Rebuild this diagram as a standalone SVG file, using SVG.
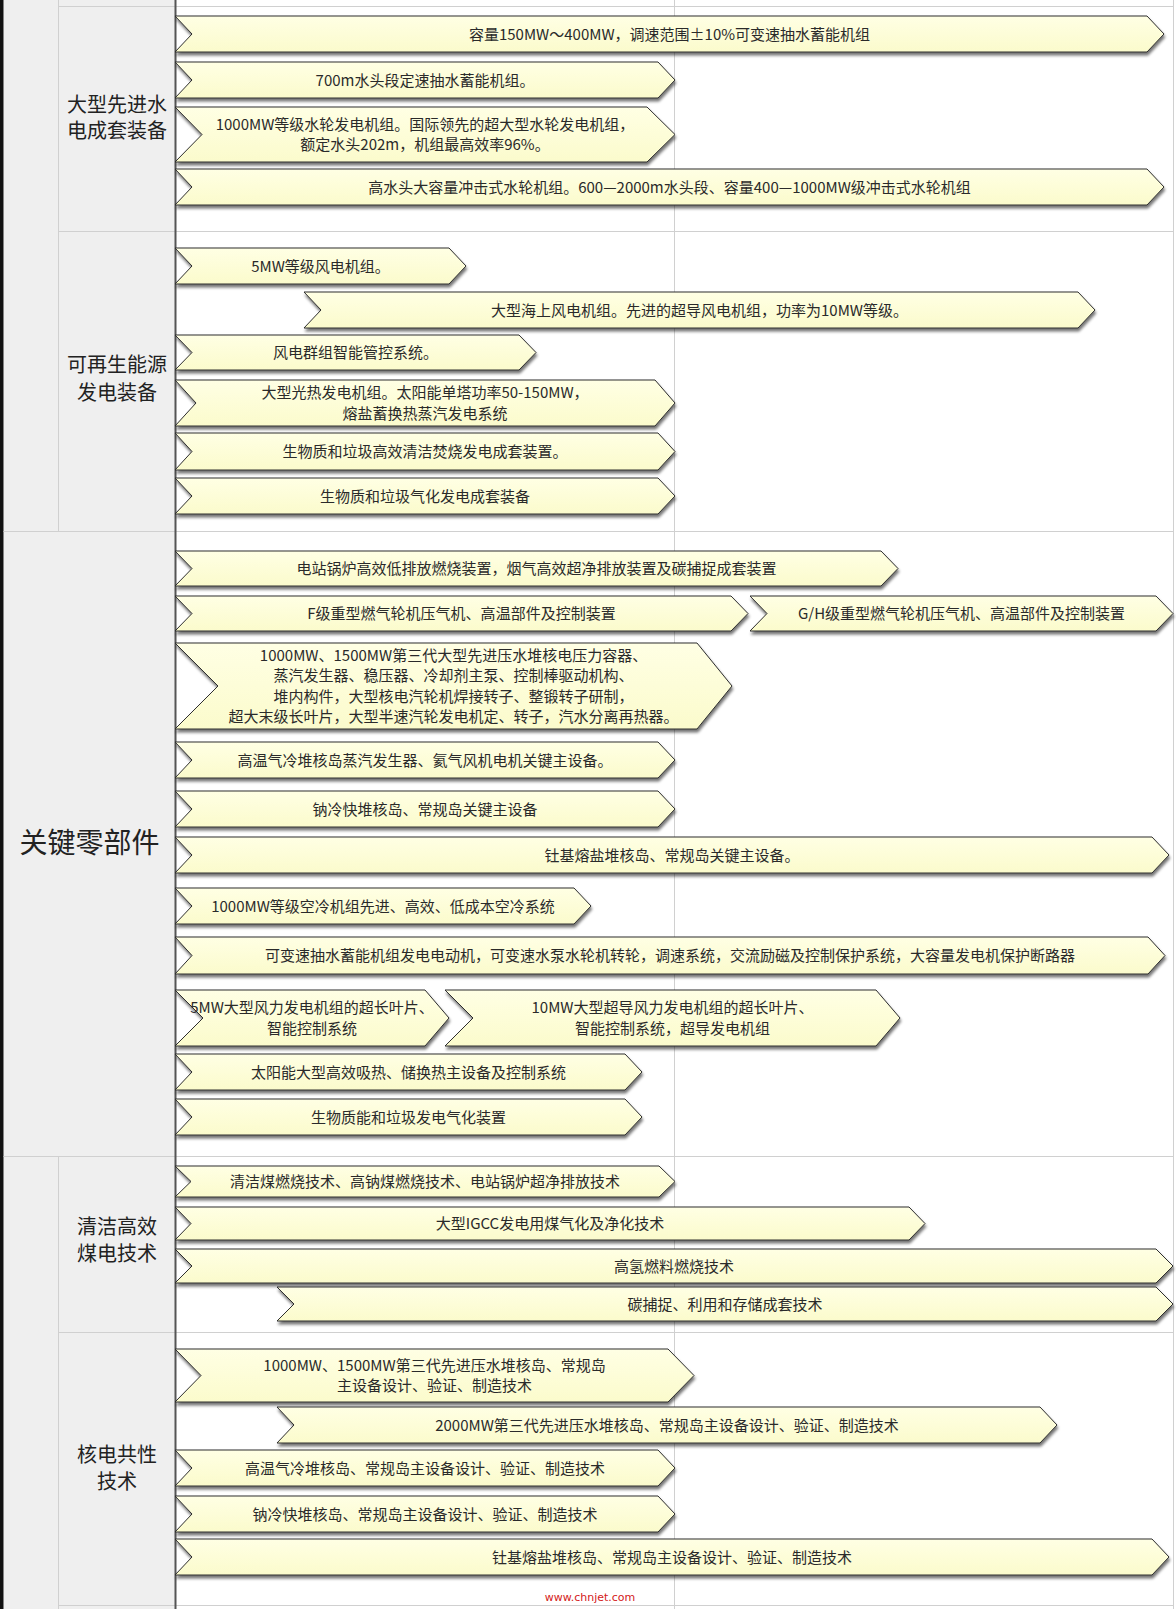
<svg xmlns="http://www.w3.org/2000/svg" width="1176" height="1609" viewBox="0 0 1176 1609">
<defs>
<linearGradient id="yf" x1="0" y1="0" x2="0" y2="1">
<stop offset="0" stop-color="#ffffe4"/>
<stop offset="1" stop-color="#fbfbcc"/>
</linearGradient>
<filter id="sh" x="-5%" y="-20%" width="110%" height="160%">
<feGaussianBlur in="SourceAlpha" stdDeviation="1.4"/>
<feOffset dx="1" dy="3" result="b"/>
<feComponentTransfer><feFuncA type="linear" slope="0.55"/></feComponentTransfer>
<feMerge><feMergeNode/><feMergeNode in="SourceGraphic"/></feMerge>
</filter>
<style>
.ar{fill:url(#yf);stroke:#2e2e2e;stroke-width:1;filter:url(#sh)}
.t{font-family:"Noto Sans CJK SC","Liberation Sans",sans-serif;font-size:15px;fill:#2a2a2a;text-anchor:middle}
.lb{font-family:"Noto Sans CJK SC","Liberation Sans",sans-serif;font-size:20px;fill:#222;text-anchor:middle}
.lbb{font-family:"Noto Sans CJK SC","Liberation Sans",sans-serif;font-size:28px;fill:#222;text-anchor:middle}
.gl{stroke:#d0d0d0;stroke-width:1;fill:none}
</style>
</defs>
<rect x="0" y="0" width="1176" height="1609" fill="#ffffff"/>
<g id="grid">
<rect x="3.5" y="0" width="172" height="1609" fill="#efefef"/>
<rect x="0" y="0" width="3.5" height="1609" fill="#111"/>
<line class="gl" x1="674.5" y1="0" x2="674.5" y2="1609"/>
<line class="gl" x1="1173.5" y1="0" x2="1173.5" y2="1609"/>
<line class="gl" x1="58.5" y1="0" x2="58.5" y2="531.5"/>
<line class="gl" x1="58.5" y1="1156.5" x2="58.5" y2="1609"/>
<line class="gl" x1="58.5" y1="6.5" x2="1174" y2="6.5"/>
<line class="gl" x1="58.5" y1="231.5" x2="1174" y2="231.5"/>
<line class="gl" x1="3.5" y1="531.5" x2="1174" y2="531.5"/>
<line class="gl" x1="3.5" y1="1156.5" x2="1174" y2="1156.5"/>
<line class="gl" x1="58.5" y1="1332.5" x2="1174" y2="1332.5"/>
<line class="gl" x1="58.5" y1="1605.5" x2="1174" y2="1605.5"/>
<line x1="175.5" y1="0" x2="175.5" y2="1609" stroke="#555" stroke-width="2"/>
</g>
<g id="labels">
<g id="lbl-hydro"><text class="lb" x="117" y="112">大型先进水</text><text class="lb" x="117" y="138">电成套装备</text></g>
<g id="lbl-renew"><text class="lb" x="117" y="372">可再生能源</text><text class="lb" x="117" y="400">发电装备</text></g>
<g id="lbl-key"><text class="lbb" x="89.5" y="853">关键零部件</text></g>
<g id="lbl-coal"><text class="lb" x="117" y="1234">清洁高效</text><text class="lb" x="117" y="1261">煤电技术</text></g>
<g id="lbl-nuc"><text class="lb" x="117" y="1462">核电共性</text><text class="lb" x="117" y="1489">技术</text></g>
</g>
<g id="connectors"></g>
<g id="n1"><polygon class="ar" points="175,16 1147,16 1164,34 1147,52 175,52 192,34"/><text class="t" x="669.5" y="39.5">容量150MW～400MW，调速范围±10%可变速抽水蓄能机组</text></g>
<g id="n2"><polygon class="ar" points="175,62 658,62 675,80 658,98 175,98 192,80"/><text class="t" x="425" y="85.5">700m水头段定速抽水蓄能机组。</text></g>
<g id="n3"><polygon class="ar" points="175,107 647,107 675,134.5 647,162 175,162 202,134.5"/><text class="t" x="425" y="129.5">1000MW等级水轮发电机组。国际领先的超大型水轮发电机组，</text><text class="t" x="425" y="150">额定水头202m，机组最高效率96%。</text></g>
<g id="n4"><polygon class="ar" points="175,169 1147,169 1164,187 1147,205 175,205 192,187"/><text class="t" x="669.5" y="192.5">高水头大容量冲击式水轮机组。600—2000m水头段、容量400—1000MW级冲击式水轮机组</text></g>
<g id="n5"><polygon class="ar" points="175,248 449,248 466,266 449,284 175,284 192,266"/><text class="t" x="320.5" y="271.5">5MW等级风电机组。</text></g>
<g id="n6"><polygon class="ar" points="304,292 1078,292 1095,310 1078,328 304,328 321,310"/><text class="t" x="699.5" y="315.5">大型海上风电机组。先进的超导风电机组，功率为10MW等级。</text></g>
<g id="n7"><polygon class="ar" points="175,335 519,335 536,352.5 519,370 175,370 192,352.5"/><text class="t" x="355.5" y="358">风电群组智能管控系统。</text></g>
<g id="n8"><polygon class="ar" points="175,380 655,380 675,403 655,426 175,426 196,403"/><text class="t" x="425" y="398">大型光热发电机组。太阳能单塔功率50-150MW，</text><text class="t" x="425" y="418.5">熔盐蓄换热蒸汽发电系统</text></g>
<g id="n9"><polygon class="ar" points="175,433 658,433 675,451.5 658,470 175,470 192,451.5"/><text class="t" x="425" y="457">生物质和垃圾高效清洁焚烧发电成套装置。</text></g>
<g id="n10"><polygon class="ar" points="175,478 658,478 675,496 658,514 175,514 192,496"/><text class="t" x="425" y="501.5">生物质和垃圾气化发电成套装备</text></g>
<g id="n11"><polygon class="ar" points="175,551 881,551 898,568.5 881,586 175,586 192,568.5"/><text class="t" x="536.5" y="574">电站锅炉高效低排放燃烧装置，烟气高效超净排放装置及碳捕捉成套装置</text></g>
<g id="n12"><polygon class="ar" points="175,596 731,596 748,613.5 731,631 175,631 192,613.5"/><text class="t" x="461.5" y="619">F级重型燃气轮机压气机、高温部件及控制装置</text></g>
<g id="n12b"><polygon class="ar" points="750,596 1156,596 1173,613.5 1156,631 750,631 767,613.5"/><text class="t" x="961.5" y="619">G/H级重型燃气轮机压气机、高温部件及控制装置</text></g>
<g id="n13"><polygon class="ar" points="175,643 697,643 732,686 697,729 175,729 218,686"/><text class="t" x="453.5" y="660.75">1000MW、1500MW第三代大型先进压水堆核电压力容器、</text><text class="t" x="453.5" y="681.25">蒸汽发生器、稳压器、冷却剂主泵、控制棒驱动机构、</text><text class="t" x="453.5" y="701.75">堆内构件，大型核电汽轮机焊接转子、整锻转子研制，</text><text class="t" x="453.5" y="722.25">超大末级长叶片，大型半速汽轮发电机定、转子，汽水分离再热器。</text></g>
<g id="n14"><polygon class="ar" points="175,742 658,742 675,760 658,778 175,778 192,760"/><text class="t" x="425" y="765.5">高温气冷堆核岛蒸汽发生器、氦气风机电机关键主设备。</text></g>
<g id="n15"><polygon class="ar" points="175,791 658,791 675,809 658,827 175,827 192,809"/><text class="t" x="425" y="814.5">钠冷快堆核岛、常规岛关键主设备</text></g>
<g id="n16"><polygon class="ar" points="175,837 1152,837 1169,855 1152,873 175,873 192,855"/><text class="t" x="672" y="860.5">钍基熔盐堆核岛、常规岛关键主设备。</text></g>
<g id="n17"><polygon class="ar" points="175,888 574,888 591,906 574,924 175,924 192,906"/><text class="t" x="383" y="911.5">1000MW等级空冷机组先进、高效、低成本空冷系统</text></g>
<g id="n18"><polygon class="ar" points="175,937 1148,937 1165,955.5 1148,974 175,974 192,955.5"/><text class="t" x="670" y="961">可变速抽水蓄能机组发电电动机，可变速水泵水轮机转轮，调速系统，交流励磁及控制保护系统，大容量发电机保护断路器</text></g>
<g id="n19"><polygon class="ar" points="175,990 425,990 449,1018 425,1046 175,1046 203,1018"/><text class="t" x="312" y="1013.25">5MW大型风力发电机组的超长叶片、</text><text class="t" x="312" y="1033.75">智能控制系统</text></g>
<g id="n20"><polygon class="ar" points="445,990 876,990 900,1018 876,1046 445,1046 473,1018"/><text class="t" x="672.5" y="1013.25">10MW大型超导风力发电机组的超长叶片、</text><text class="t" x="672.5" y="1033.75">智能控制系统，超导发电机组</text></g>
<g id="n21"><polygon class="ar" points="175,1054 625,1054 642,1072 625,1090 175,1090 192,1072"/><text class="t" x="408.5" y="1077.5">太阳能大型高效吸热、储换热主设备及控制系统</text></g>
<g id="n22"><polygon class="ar" points="175,1099 625,1099 642,1117 625,1135 175,1135 192,1117"/><text class="t" x="408.5" y="1122.5">生物质能和垃圾发电气化装置</text></g>
<g id="n23"><polygon class="ar" points="175,1166 659,1166 675,1181.5 659,1197 175,1197 191,1181.5"/><text class="t" x="425" y="1187">清洁煤燃烧技术、高钠煤燃烧技术、电站锅炉超净排放技术</text></g>
<g id="n24"><polygon class="ar" points="175,1207 909,1207 925,1223.5 909,1240 175,1240 191,1223.5"/><text class="t" x="550" y="1229">大型IGCC发电用煤气化及净化技术</text></g>
<g id="n25"><polygon class="ar" points="175,1249 1156,1249 1173,1266 1156,1283 175,1283 192,1266"/><text class="t" x="674" y="1271.5">高氢燃料燃烧技术</text></g>
<g id="n26"><polygon class="ar" points="277,1287 1156,1287 1173,1304 1156,1321 277,1321 294,1304"/><text class="t" x="725" y="1309.5">碳捕捉、利用和存储成套技术</text></g>
<g id="n27"><polygon class="ar" points="175,1349 668,1349 694,1375.5 668,1402 175,1402 201,1375.5"/><text class="t" x="434.5" y="1370.75">1000MW、1500MW第三代先进压水堆核岛、常规岛</text><text class="t" x="434.5" y="1391.25">主设备设计、验证、制造技术</text></g>
<g id="n28"><polygon class="ar" points="277,1407 1040,1407 1057,1425 1040,1443 277,1443 294,1425"/><text class="t" x="667" y="1430.5">2000MW第三代先进压水堆核岛、常规岛主设备设计、验证、制造技术</text></g>
<g id="n29"><polygon class="ar" points="175,1450 658,1450 675,1468 658,1486 175,1486 192,1468"/><text class="t" x="425" y="1473.5">高温气冷堆核岛、常规岛主设备设计、验证、制造技术</text></g>
<g id="n30"><polygon class="ar" points="175,1496 658,1496 675,1514 658,1532 175,1532 192,1514"/><text class="t" x="425" y="1519.5">钠冷快堆核岛、常规岛主设备设计、验证、制造技术</text></g>
<g id="n31"><polygon class="ar" points="175,1539 1152,1539 1169,1557 1152,1575 175,1575 192,1557"/><text class="t" x="672" y="1562.5">钍基熔盐堆核岛、常规岛主设备设计、验证、制造技术</text></g>
<text x="590" y="1601" font-family="'DejaVu Sans',sans-serif" font-size="11" fill="#d42020" text-anchor="middle">www.chnjet.com</text>
</svg>
